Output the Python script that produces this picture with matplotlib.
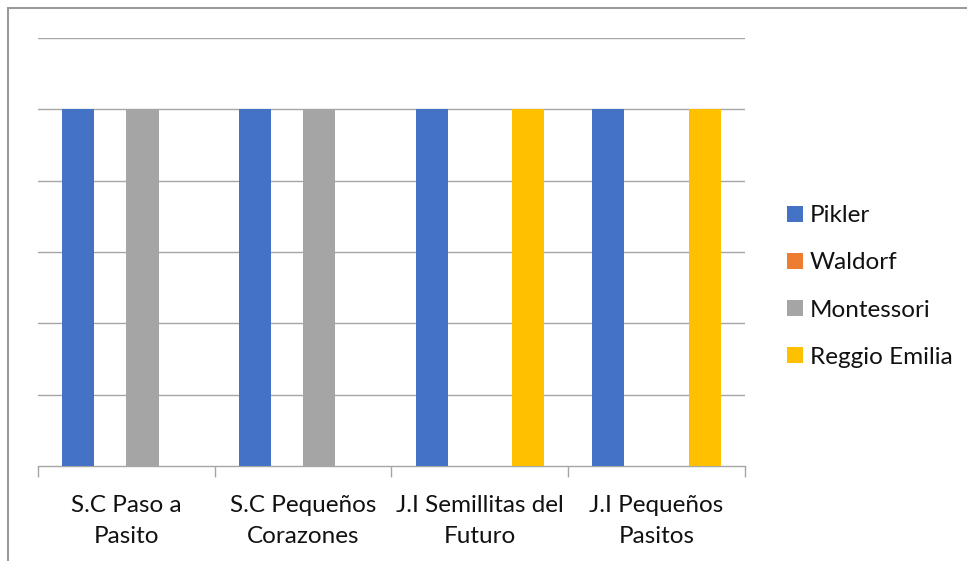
import matplotlib
matplotlib.use("Agg")
import matplotlib.pyplot as plt
from matplotlib.patches import Rectangle
import numpy as np

categories = ["S.C Paso a\nPasito", "S.C Pequeños\nCorazones", "J.I Semillitas del\nFuturo", "J.I Pequeños\nPasitos"]
series_names = ["Pikler", "Waldorf", "Montessori", "Reggio Emilia"]
pikler = [1, 1, 1, 1]
waldorf = [0, 0, 0, 0]
montessori = [1, 1, 0, 0]
reggio = [0, 0, 1, 1]
colors = ["#4472C4", "#ED7D31", "#A5A5A5", "#FFC000"]

plt.rcParams['font.family'] = ['Lato', 'DejaVu Sans']

W, H = 967, 561
fig = plt.figure(figsize=(W / 100, H / 100), dpi=100)
ax = fig.add_axes([38 / W, 1 - 466 / H, (745 - 38) / W, (466 - 38) / H])

x = np.arange(len(categories))
w = 1 / 5.5
handles = []
for j, (vals, name, c) in enumerate(zip([pikler, waldorf, montessori, reggio], series_names, colors)):
    b = ax.bar(x + (j - 1.5) * w, vals, width=w, color=c, label=name, zorder=3)
    handles.append(b)

ax.set_xlim(-0.5, 3.5)
ax.set_ylim(0, 1.2)
ax.set_yticks(np.arange(0.2, 1.21, 0.2))
ax.yaxis.grid(True, color="#a6a6a6", linewidth=1.0, zorder=0)
ax.tick_params(axis='y', length=0, labelleft=False)
for s in ["left", "right", "top"]:
    ax.spines[s].set_visible(False)
ax.spines["bottom"].set_color("#a6a6a6")
ax.spines["bottom"].set_linewidth(1.0)

ax.set_xticks(x)
ax.set_xticklabels(categories, fontsize=17.5, color="#111111", linespacing=1.6)
ax.tick_params(axis='x', which='major', length=0, pad=21)
ax.set_xticks(np.arange(-0.5, 3.6, 1), minor=True)
ax.tick_params(axis='x', which='minor', length=8, color="#a6a6a6", width=1.0)

leg = fig.legend(handles=handles, labels=series_names, loc="center left",
                 bbox_to_anchor=(787 / W, 1 - 286.5 / H), frameon=False,
                 fontsize=17.5, handlelength=0.65, handleheight=0.65,
                 handletextpad=0.3, labelspacing=1.07, borderpad=0, borderaxespad=0)
for t in leg.get_texts():
    t.set_color("#111111")

fig.patches.append(Rectangle((8 / W, -0.5), 2, 0.5 + (1 - 8 / H), transform=fig.transFigure,
                             fill=False, edgecolor="#9a9a9a", linewidth=1.5))

fig.savefig("out.png", dpi=100, facecolor="white")
